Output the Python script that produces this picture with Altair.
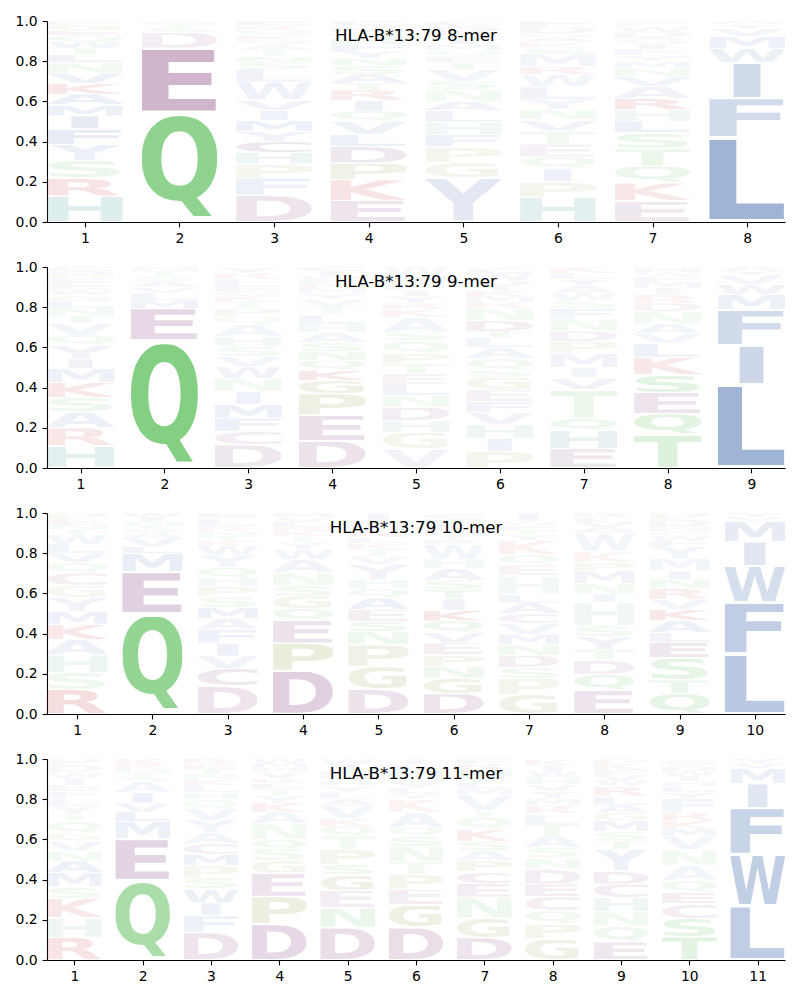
import altair as alt
import pandas as pd
from urllib.parse import quote

# ---------------- data (letters bottom -> top, probability, weight) ----------------
AA_8 = ["HRSYFIMAKVNLTWQEGP", "QEDSTN", "DFPHCYMIVWLSNTAGKQRE", "EKPDLVQIRTASNYFHGMWC",
        "YGPFHLANSVTEQMIWRDC", "HPIQETVNYLWRMSKAGDF", "EKQTSLHRAVNMYFIGDWP", "LFIWMVYA"]
P_8 = [
    [.124, .088, .083, .078, .075, .061, .055, .05, .05, .05, .05, .04, .03, .03, .03, .025, .025, .02],
    [.545, .32, .08, .02, .02, .015],
    [.133, .086, .07, .058, .055, .05, .055, .05, .05, .09, .065, .035, .03, .03, .025, .025, .02, .03, .02, .023],
    [.104, .1, .08, .08, .058, .063, .05, .05, .05, .033, .045, .04, .035, .035, .03, .03, .03, .02, .015, .02],
    [.22, .075, .078, .063, .06, .058, .045, .058, .04, .06, .035, .03, .03, .03, .025, .02, .017, .03, .025],
    [.12, .075, .063, .058, .063, .063, .055, .05, .05, .06, .06, .04, .06, .03, .025, .025, .02, .03, .03],
    [.104, .09, .083, .086, .08, .058, .058, .053, .06, .05, .04, .035, .03, .03, .025, .03, .03, .03, .025],
    [.42, .196, .177, .07, .06, .04, .02, .017],
]
W_8 = [
    [.15, .12, .08, .08, .1, .1, .08, .08, .1, .07, .06, .06, .05, .05, .05, .05, .05, .04],
    [.5, .35, .08, .04, .04, .03],
    [.12, .08, .07, .08, .1, .06, .08, .07, .06, .07, .06, .05, .05, .04, .04, .04, .04, .04, .04, .04],
    [.12, .12, .1, .1, .08, .07, .06, .07, .08, .05, .06, .05, .05, .05, .05, .05, .04, .04, .03, .04],
    [.12, .08, .07, .07, .06, .06, .06, .05, .05, .05, .05, .04, .04, .04, .04, .04, .04, .04, .04],
    [.12, .08, .07, .06, .06, .06, .06, .05, .05, .06, .05, .06, .05, .04, .04, .04, .04, .04, .04],
    [.1, .1, .08, .08, .08, .07, .06, .1, .06, .05, .05, .04, .04, .04, .04, .04, .04, .04, .04],
    [.42, .2, .2, .08, .07, .05, .04, .03],
]

AA_9 = ["HRASKMIYQVTNLGWEFPDC", "QEMLVASTN", "DCFMINWVSHAQPTKGELRY", "DEPGKQNSAHLTVYMRFWIC",
        "VGHDNLETPQSAKRYIFMW", "PIHVFEGSQALTDNRMKYWC", "EHQTVIMPDNFSWAYLK", "TQESKLVANDRIMFWH", "LIFMWVYA"]
P_9 = [
    [.11, .09, .08, .07, .075, .07, .046, .07, .05, .058, .04, .035, .035, .03, .03, .025, .025, .02, .02, .02],
    [.635, .16, .04, .035, .03, .03, .025, .025, .02],
    [.116, .066, .066, .07, .06, .066, .058, .05, .05, .05, .06, .04, .04, .035, .025, .025, .02, .04, .03, .03],
    [.136, .127, .107, .066, .05, .05, .045, .045, .05, .04, .05, .04, .035, .03, .025, .02, .02, .02, .025, .02],
    [.094, .083, .058, .066, .058, .058, .053, .05, .05, .063, .04, .075, .04, .03, .035, .03, .035, .04, .04],
    [.078, .066, .066, .058, .053, .058, .058, .033, .058, .053, .046, .033, .05, .058, .03, .03, .025, .045, .04, .03],
    [.094, .086, .058, .14, .055, .05, .066, .058, .05, .058, .05, .04, .035, .035, .03, .03, .03],
    [.156, .1, .1, .083, .083, .066, .045, .045, .058, .04, .04, .03, .03, .025, .02, .025],
    [.412, .194, .177, .075, .05, .045, .02, .02],
]
W_9 = [
    [.12, .1, .07, .07, .1, .07, .06, .06, .05, .05, .05, .05, .05, .04, .04, .04, .04, .04, .04, .04],
    [.55, .18, .06, .05, .04, .04, .04, .04, .03],
    [.1, .08, .07, .08, .07, .05, .06, .05, .05, .05, .05, .04, .05, .04, .04, .04, .04, .04, .04, .04],
    [.13, .14, .12, .1, .1, .06, .06, .05, .05, .05, .05, .04, .04, .04, .04, .04, .04, .03, .04, .04],
    [.06, .08, .06, .08, .05, .06, .05, .05, .06, .05, .05, .05, .05, .04, .04, .04, .04, .04, .04],
    [.08, .07, .07, .06, .06, .06, .07, .05, .05, .05, .05, .05, .07, .05, .04, .04, .04, .04, .04, .04],
    [.1, .1, .07, .08, .06, .05, .06, .06, .06, .05, .05, .04, .04, .04, .04, .04, .04],
    [.15, .12, .12, .12, .1, .07, .05, .05, .05, .05, .05, .04, .04, .04, .03, .04],
    [.42, .22, .2, .08, .06, .05, .04, .04],
]

AA_10 = ["RSHAKMYGCQVLWTNEP", "QEMLVASTNIW", "DCVIFAMSPHQYWKTNRLE", "DPEQGSNAWYTKRLVM",
         "DGPNSEAQHYVTKLRFMI", "DGNPEVQKITSAHWRYMLFC", "GPSDNMVCALHEQKYTFWI", "EQDTYSHINMPKWAVLR",
         "QTSELAKVRNIMYFWGHDP", "LFWIMVY"]
P_10 = [
    [.121, .083, .086, .076, .076, .06, .07, .06, .06, .05, .046, .046, .046, .025, .021, .03, .03],
    [.497, .207, .091, .035, .043, .025, .02, .02, .018, .02, .02],
    [.138, .088, .063, .063, .07, .053, .055, .058, .045, .045, .05, .063, .046, .025, .025, .023, .023, .04, .027],
    [.216, .136, .116, .058, .061, .053, .063, .066, .05, .035, .03, .025, .02, .028, .02, .023],
    [.124, .113, .108, .066, .05, .058, .058, .046, .046, .075, .04, .035, .03, .03, .025, .02, .035, .04],
    [.1, .075, .058, .056, .058, .05, .058, .053, .058, .041, .046, .058, .046, .075, .02, .02, .02, .02, .04, .03],
    [.091, .075, .05, .058, .05, .05, .05, .046, .05, .041, .086, .05, .05, .066, .025, .025, .02, .018, .04],
    [.111, .075, .066, .05, .058, .05, .11, .04, .05, .058, .041, .05, .083, .03, .025, .02, .021],
    [.1, .066, .108, .075, .05, .058, .053, .05, .053, .046, .041, .058, .058, .03, .025, .02, .021, .04, .03],
    [.29, .249, .174, .116, .1, .02, .018],
]
W_10 = [
    [.15, .07, .08, .07, .1, .07, .06, .06, .07, .05, .05, .05, .05, .04, .04, .04, .04],
    [.48, .22, .09, .06, .05, .04, .04, .04, .03, .04, .04],
    [.12, .1, .06, .07, .07, .06, .07, .05, .06, .05, .05, .05, .05, .04, .04, .04, .04, .04, .04],
    [.22, .15, .13, .07, .08, .06, .05, .06, .05, .04, .04, .04, .04, .04, .04, .04],
    [.13, .12, .1, .07, .07, .07, .07, .05, .05, .06, .04, .04, .04, .04, .04, .04, .04, .04],
    [.12, .1, .07, .08, .07, .06, .07, .1, .06, .07, .06, .06, .05, .05, .04, .04, .04, .04, .04, .04],
    [.1, .08, .06, .07, .06, .06, .05, .06, .06, .05, .05, .05, .05, .06, .04, .04, .04, .04, .04],
    [.12, .08, .08, .05, .06, .06, .06, .05, .05, .06, .05, .05, .05, .04, .04, .04, .04],
    [.1, .08, .1, .1, .06, .07, .1, .05, .08, .05, .05, .05, .05, .04, .04, .04, .04, .04, .04],
    [.3, .28, .18, .13, .1, .04, .04],
]

AA_11 = ["RHKSMANVGQTYLFEIWDP", "QEMLVIASTNDRK", "DFIWSPMCAYVQHLKNTER", "DPEGSQNAKYTLRVHMW",
         "DNEGSPTQKVALYHMFIW", "DGEPTNSQAKYLVHMFI", "DGNECPASKQTVMLYHRF", "GPQCEDNSATLRMYVHWIK",
         "EQNHCDYTSMGALRWVFKP", "TSCEQANVMKRFYLHIWDG", "LWFIMVY"]
P_11 = [
    [.112, .096, .096, .058, .07, .058, .05, .05, .036, .063, .03, .04, .04, .035, .03, .035, .03, .035, .03],
    [.397, .203, .088, .045, .045, .053, .055, .02, .02, .015, .015, .02, .02],
    [.137, .083, .063, .071, .053, .063, .055, .053, .055, .061, .058, .045, .035, .035, .03, .025, .025, .03, .02],
    [.178, .137, .116, .063, .06, .043, .079, .058, .046, .035, .03, .03, .025, .03, .027, .02, .02],
    [.162, .099, .086, .079, .051, .074, .066, .05, .036, .063, .035, .035, .03, .03, .025, .022, .03, .027],
    [.162, .112, .079, .074, .06, .079, .051, .041, .074, .066, .03, .03, .03, .027, .027, .03, .028],
    [.112, .096, .104, .069, .058, .055, .05, .046, .06, .058, .036, .074, .035, .03, .03, .032, .03, .025],
    [.104, .073, .066, .069, .063, .074, .055, .05, .058, .06, .05, .04, .035, .035, .035, .035, .03, .03, .03],
    [.088, .078, .069, .069, .066, .063, .107, .043, .043, .055, .036, .038, .041, .05, .03, .025, .023, .03, .025],
    [.116, .091, .074, .055, .061, .074, .078, .066, .038, .04, .04, .071, .03, .03, .025, .025, .026, .03, .03],
    [.261, .248, .223, .116, .074, .025, .02],
]
W_11 = [
    [.12, .08, .1, .06, .07, .07, .05, .05, .05, .05, .04, .04, .04, .04, .04, .04, .04, .04, .04],
    [.38, .2, .08, .07, .05, .07, .05, .04, .04, .03, .03, .04, .04],
    [.12, .08, .07, .08, .06, .06, .07, .06, .05, .05, .05, .04, .04, .04, .04, .04, .04, .04, .04],
    [.18, .13, .12, .08, .06, .06, .05, .05, .06, .04, .04, .04, .04, .04, .04, .04, .04],
    [.15, .08, .08, .1, .07, .08, .06, .05, .05, .05, .04, .04, .04, .04, .04, .04, .04, .04],
    [.15, .12, .08, .08, .06, .06, .06, .05, .05, .05, .04, .04, .04, .04, .04, .04, .04],
    [.12, .1, .07, .08, .08, .07, .05, .06, .08, .05, .04, .05, .04, .04, .04, .04, .04, .04],
    [.1, .08, .06, .07, .08, .08, .05, .05, .05, .05, .05, .05, .04, .04, .04, .04, .04, .04, .04],
    [.1, .07, .06, .07, .08, .08, .07, .05, .05, .06, .05, .05, .05, .06, .04, .04, .04, .04, .04],
    [.12, .1, .08, .07, .06, .05, .05, .05, .05, .05, .06, .05, .04, .04, .04, .04, .04, .04, .04],
    [.28, .27, .24, .13, .08, .04, .04],
]

PANELS = [(8, AA_8, P_8, W_8), (9, AA_9, P_9, W_9), (10, AA_10, P_10, W_10), (11, AA_11, P_11, W_11)]
TITLE = "HLA-B*13:79 {}-mer"

# ---------------- glyph styling ----------------
BLUE, GREEN, PURPLE, RED, TEAL, OLIVE = "#1f4e9f", "#22a822", "#7a2e70", "#cc2a2a", "#2a8a8a", "#7f8a22"
COLOR = {}
for c in "AVLIMFWY":
    COLOR[c] = BLUE
for c in "NQST":
    COLOR[c] = GREEN
for c in "DEC":
    COLOR[c] = PURPLE
for c in "KR":
    COLOR[c] = RED
COLOR["H"] = TEAL
for c in "GP":
    COLOR[c] = OLIVE

# approximate ink x-extent of DejaVu Sans Bold glyphs (em units)
INK = {"A": (.017, .757), "C": (.049, .677), "D": (.092, .780), "E": (.092, .621), "F": (.092, .613),
       "G": (.049, .774), "H": (.092, .745), "I": (.092, .280), "K": (.092, .789), "L": (.092, .617),
       "M": (.092, .903), "N": (.092, .745), "P": (.092, .681), "Q": (.049, .801), "R": (.092, .764),
       "S": (.051, .669), "T": (.016, .666), "V": (.017, .757), "W": (.034, 1.068), "Y": (-.003, .727)}
ROUND = set("CGQS")


def glyph_uri(ch):
    x0, x1 = INK[ch]
    if ch == "I":  # narrow glyph stays narrow
        mid = (x0 + x1) / 2
        x0, x1 = mid - 0.265, mid + 0.265
    top = 0.742 if ch in ROUND else 0.729
    bot = 0.17 if ch == "Q" else (0.013 if ch in ROUND else 0.0)
    vb = f"{x0*100:.2f} {-top*100:.2f} {(x1-x0)*100:.2f} {(top+bot)*100:.2f}"
    svg = ("<svg xmlns='http://www.w3.org/2000/svg' width='100' height='100' "
           f"viewBox='{vb}' preserveAspectRatio='none'>"
           "<text x='0' y='0' font-family='DejaVu Sans' font-weight='bold' font-size='100' "
           f"fill='{COLOR[ch]}'>{ch}</text></svg>")
    return "data:image/svg+xml;charset=utf-8," + quote(svg)


URL = {c: glyph_uri(c) for c in COLOR}


def logo(n, aa, p, w):
    rows = []
    for pos, (letters, ps, ws) in enumerate(zip(aa, p, w), start=1):
        for k, (ch, v, wt) in enumerate(zip(letters, ps, ws)):
            rows.append({"pos": pos, "aa": ch, "order": k, "p": v, "w": wt, "url": URL[ch]})
    df = pd.DataFrame(rows)
    return (
        alt.Chart(df, title=alt.Title(TITLE.format(n), anchor="middle", frame="group", offset=-31,
                                      fontSize=16.7, fontWeight="normal", font="DejaVu Sans", color="black"))
        .transform_stack(stack="p", groupby=["pos"], as_=["s0", "s1"], offset="normalize",
                         sort=[alt.SortField("order", order="ascending")])
        .transform_calculate(
            gy0="datum.s0 + 0.03*(datum.s1 - datum.s0)",
            gy1="datum.s1 - 0.03*(datum.s1 - datum.s0)",
            gx0="datum.pos - 0.4",
            gx1="datum.pos + 0.4",
        )
        .mark_image(aspect=False)
        .encode(
            x=alt.X("gx0:Q", scale=alt.Scale(domain=[0.6, n + 0.4], nice=False, zero=False),
                    axis=alt.Axis(values=list(range(1, n + 1)), format="d", title=None, grid=False)),
            x2="gx1:Q",
            y=alt.Y("gy0:Q", scale=alt.Scale(domain=[0, 1], nice=False),
                    axis=alt.Axis(values=[0, 0.2, 0.4, 0.6, 0.8, 1.0], format=".1f", title=None, grid=False)),
            y2="gy1:Q",
            url="url:N",
            opacity=alt.Opacity("w:Q", scale=None),
            tooltip=["pos:O", "aa:N", "p:Q"],
        )
        .properties(width=738, height=201)
    )


chart = (
    alt.vconcat(*[logo(*args) for args in PANELS], spacing=14)
    .properties(padding={"left": 7, "top": 6, "right": 5, "bottom": 5})
    .configure_view(stroke=None)
    .configure_axis(labelFont="DejaVu Sans", labelFontSize=13.9, labelColor="black",
                    tickColor="black", domainColor="black", tickSize=4.9, labelPadding=4.9,
                    domainWidth=1.1, tickWidth=1.1)
)
chart.save("out.html", embed_options={"renderer": "svg", "actions": False})
